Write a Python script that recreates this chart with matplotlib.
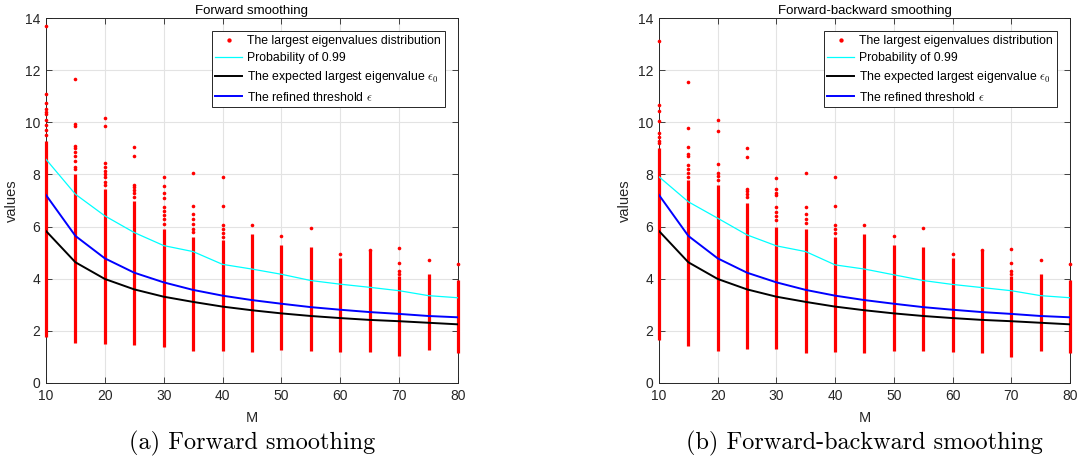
import matplotlib
matplotlib.use("Agg")
import matplotlib.pyplot as plt

# ---------------- data ----------------
M = [10, 15, 20, 25, 30, 35, 40, 45, 50, 55, 60, 65, 70, 75, 80]

# Forward smoothing: continuous range of the largest eigenvalues + isolated points
fwd_low = [1.78, 1.55, 1.48, 1.46, 1.39, 1.22, 1.22, 1.18, 1.27, 1.24, 1.2, 1.2, 1.03, 1.25, 1.16]
fwd_dense_top = [9.3, 8.0, 7.45, 7.0, 5.9, 5.6, 5.5, 5.7, 5.3, 5.2, 4.8, 5.1, 4.1, 4.18, 3.95]
fwd_outliers = [
    [13.7, 11.1, 10.75, 10.5, 10.4, 10.3, 10.1, 9.9, 9.7, 9.5],
    [11.65, 9.95, 9.85, 9.1, 9.0, 8.85, 8.7, 8.5, 8.3, 8.2],
    [10.15, 9.85, 8.45, 8.3, 8.15, 8.0, 7.9, 7.7, 7.6],
    [9.05, 8.7, 7.6, 7.5, 7.4, 7.3, 7.15],
    [7.9, 7.55, 7.3, 7.1, 6.75, 6.6, 6.45, 6.3, 6.1],
    [8.05, 6.8, 6.5, 6.3, 6.1, 5.9, 5.8],
    [7.9, 6.8, 6.05, 5.9, 5.75, 5.6],
    [6.05],
    [5.65],
    [5.95],
    [4.95],
    [5.1],
    [5.17, 4.6, 4.3, 4.2],
    [4.72],
    [4.56],
]
fwd_prob99 = [8.58, 7.24, 6.41, 5.77, 5.27, 5.04, 4.55, 4.37, 4.17, 3.93, 3.79, 3.67, 3.54, 3.35, 3.27]
fwd_expected = [5.83, 4.63, 3.99, 3.59, 3.31, 3.11, 2.93, 2.79, 2.67, 2.57, 2.49, 2.42, 2.37, 2.31, 2.25]
fwd_refined = [7.21, 5.64, 4.78, 4.23, 3.86, 3.57, 3.35, 3.18, 3.04, 2.91, 2.81, 2.72, 2.65, 2.57, 2.52]

# Forward-backward smoothing
fb_low = [1.65, 1.42, 1.24, 1.30, 1.32, 1.14, 1.18, 1.14, 1.23, 1.23, 1.17, 1.14, 1.01, 1.23, 1.15]
fb_dense_top = [9.0, 7.8, 7.6, 6.9, 6.0, 5.9, 5.6, 5.7, 5.3, 5.2, 4.8, 5.1, 4.1, 4.18, 3.95]
fb_outliers = [
    [13.1, 10.65, 10.45, 10.05, 9.6, 9.45, 9.3, 9.2],
    [11.55, 9.8, 9.05, 8.8, 8.7, 8.35, 8.2, 8.05, 7.9],
    [10.1, 9.65, 8.4, 8.05, 7.95, 7.8],
    [9.0, 8.65, 7.45, 7.35, 7.25, 7.15],
    [7.85, 7.45, 7.3, 7.2, 6.75, 6.55, 6.4, 6.25],
    [8.05, 6.75, 6.5, 6.3, 6.15],
    [7.9, 6.8, 6.05, 5.9, 5.75],
    [6.05],
    [5.65],
    [5.95],
    [4.95],
    [5.1],
    [5.15, 4.6, 4.3, 4.2],
    [4.72],
    [4.55],
]
fb_prob99 = [7.91, 6.95, 6.32, 5.68, 5.26, 5.04, 4.53, 4.37, 4.15, 3.93, 3.78, 3.66, 3.54, 3.35, 3.27]
fb_expected = fwd_expected
fb_refined = fwd_refined

titles = ["Forward smoothing", "Forward-backward smoothing"]
captions = ["(a) Forward smoothing", "(b) Forward-backward smoothing"]
x_ticks = [10, 20, 30, 40, 50, 60, 70, 80]
y_ticks = [0, 2, 4, 6, 8, 10, 12, 14]

# ---------------- figure ----------------
plt.rcParams["font.family"] = ["Liberation Sans", "DejaVu Sans"]
plt.rcParams["mathtext.fontset"] = "cm"

W, H = 1083, 463
fig = plt.figure(figsize=(W / 100, H / 100), dpi=100)

axes_px = [(46, 458), (659, 1070)]
top_px, bot_px = 18, 383

panels = [
    (fwd_low, fwd_dense_top, fwd_outliers, fwd_prob99, fwd_expected, fwd_refined),
    (fb_low, fb_dense_top, fb_outliers, fb_prob99, fb_expected, fb_refined),
]

edge = "#262626"
for i, (low, top, outl, p99, expv, refv) in enumerate(panels):
    l, r = axes_px[i]
    ax = fig.add_axes([l / W, 1 - bot_px / H, (r - l) / W, (bot_px - top_px) / H])
    ax.set_axisbelow(True)
    ax.grid(True, color="#e3e3e3", lw=0.8)

    ax.vlines(M, low, top, color="red", lw=2.3, zorder=3, clip_on=False)
    ox, oy = [], []
    for m, vals in zip(M, outl):
        for v in vals:
            ox.append(m)
            oy.append(v)
    h_sc, = ax.plot(ox, oy, ls="none", marker="o", ms=2.6, mew=0, color="red", zorder=3,
                    clip_on=False, label="The largest eigenvalues distribution")
    h_c, = ax.plot(M, p99, color="cyan", lw=0.9, zorder=4, label="Probability of 0.99")
    h_k, = ax.plot(M, expv, color="black", lw=1.4, zorder=4,
                   label=r"The expected largest eigenvalue $\epsilon_0$")
    h_b, = ax.plot(M, refv, color="blue", lw=1.4, zorder=4,
                   label=r"The refined threshold $\epsilon$")

    ax.set_xlim(10, 80)
    ax.set_ylim(0, 14)
    ax.set_xticks(x_ticks)
    ax.set_yticks(y_ticks)
    ax.tick_params(direction="in", length=4, width=0.6, colors=edge, labelsize=10,
                   top=True, right=True, pad=4)
    for s in ax.spines.values():
        s.set_color(edge)
        s.set_linewidth(0.7)
    ax.set_xlabel("M", fontsize=10.5, color=edge, labelpad=6)
    ax.set_ylabel("values", fontsize=10.5, color=edge, labelpad=4)
    ax.set_title(titles[i], fontsize=9.5, color="black", pad=3)

    leg = ax.legend(handles=[h_sc, h_c, h_k, h_b], loc="upper right", fontsize=8.8,
                    frameon=True, fancybox=False, framealpha=1, edgecolor=edge,
                    borderaxespad=1.1, handlelength=2.2, handletextpad=0.4,
                    labelspacing=0.42, borderpad=0.3, markerscale=1.2)
    leg.get_frame().set_linewidth(0.7)
    leg.set_zorder(6)

    fig.text(((l + r) / 2) / W, 1 - 443 / H, captions[i], ha="center", va="center",
             fontsize=17.5, family="cmr10")

fig.savefig("out.png", dpi=100)
